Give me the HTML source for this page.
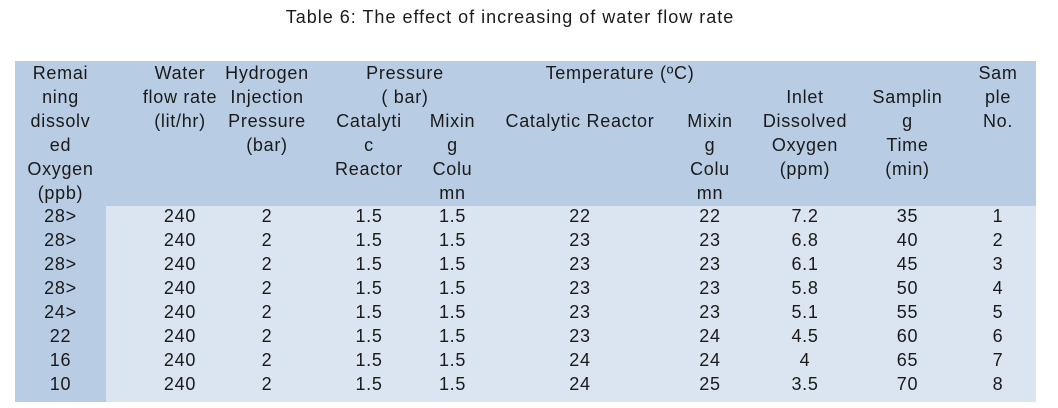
<!DOCTYPE html>
<html><head><meta charset="utf-8"><style>
body{margin:0;width:1058px;height:408px;background:#fff;font-family:"Liberation Sans",sans-serif;color:#1a1a1a;position:relative;overflow:hidden}
.t{position:absolute;left:-19px;width:1058px;top:7px;text-align:center;font-size:18px;letter-spacing:1px}
.hd{position:absolute;left:15px;top:61px;width:1021px;height:145px;background:#b8cce4}
.lc{position:absolute;left:15px;top:206px;width:91px;height:196px;background:#b8cce4}
.bd{position:absolute;left:106px;top:206px;width:930px;height:196px;background:#dbe5f1}
.c{position:absolute;text-align:center;font-size:18px;line-height:24px;white-space:nowrap;letter-spacing:0.7px}
</style></head><body>
<div class="t">Table 6: The effect of increasing of water flow rate</div>
<div class="hd"></div><div class="lc"></div><div class="bd"></div>

<div class="c" style="left:15px;width:91px;top:61px">Remai<br>ning<br>dissolv<br>ed<br>Oxygen<br>(ppb)</div>
<div class="c" style="left:120px;width:120px;top:61px">Water<br>flow rate<br>(lit/hr)</div>
<div class="c" style="left:217px;width:100px;top:61px">Hydrogen<br>Injection<br>Pressure<br>(bar)</div>
<div class="c" style="left:315px;width:180px;top:61px">Pressure<br>( bar)</div>
<div class="c" style="left:319px;width:100px;top:109px">Catalyti<br>c<br>Reactor</div>
<div class="c" style="left:415px;width:75px;top:109px">Mixin<br>g<br>Colu<br>mn</div>
<div class="c" style="left:490px;width:260px;top:61px">Temperature (ºC)</div>
<div class="c" style="left:490px;width:180px;top:109px">Catalytic Reactor</div>
<div class="c" style="left:670px;width:80px;top:109px">Mixin<br>g<br>Colu<br>mn</div>
<div class="c" style="left:750px;width:110px;top:85px">Inlet<br>Dissolved<br>Oxygen<br>(ppm)</div>
<div class="c" style="left:860px;width:95px;top:85px">Samplin<br>g<br>Time<br>(min)</div>
<div class="c" style="left:955px;width:86px;top:61px">Sam<br>ple<br>No.</div>

<div class="c" style="left:15px;width:91px;top:204px">28&gt;<br>28&gt;<br>28&gt;<br>28&gt;<br>24&gt;<br>22<br>16<br>10</div>
<div class="c" style="left:120px;width:120px;top:204px">240<br>240<br>240<br>240<br>240<br>240<br>240<br>240</div>
<div class="c" style="left:217px;width:100px;top:204px">2<br>2<br>2<br>2<br>2<br>2<br>2<br>2</div>
<div class="c" style="left:319px;width:100px;top:204px">1.5<br>1.5<br>1.5<br>1.5<br>1.5<br>1.5<br>1.5<br>1.5</div>
<div class="c" style="left:415px;width:75px;top:204px">1.5<br>1.5<br>1.5<br>1.5<br>1.5<br>1.5<br>1.5<br>1.5</div>
<div class="c" style="left:490px;width:180px;top:204px">22<br>23<br>23<br>23<br>23<br>23<br>24<br>24</div>
<div class="c" style="left:670px;width:80px;top:204px">22<br>23<br>23<br>23<br>23<br>24<br>24<br>25</div>
<div class="c" style="left:750px;width:110px;top:204px">7.2<br>6.8<br>6.1<br>5.8<br>5.1<br>4.5<br>4<br>3.5</div>
<div class="c" style="left:860px;width:95px;top:204px">35<br>40<br>45<br>50<br>55<br>60<br>65<br>70</div>
<div class="c" style="left:955px;width:86px;top:204px">1<br>2<br>3<br>4<br>5<br>6<br>7<br>8</div>
</body></html>
